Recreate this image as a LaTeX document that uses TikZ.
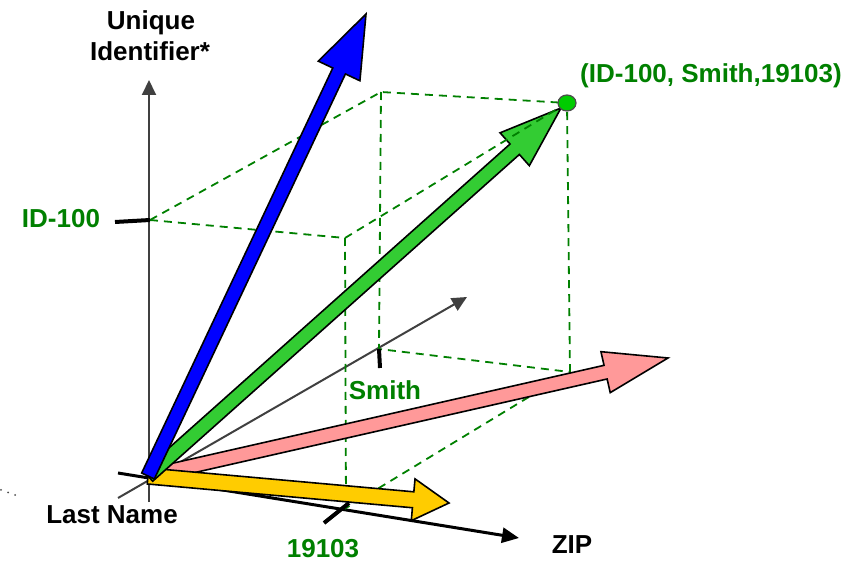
\documentclass[tikz,border=0pt]{standalone}
\usepackage{fontspec}
\setmainfont{Liberation Sans}
\usetikzlibrary{calc,arrows.meta}
\definecolor{lblgreen}{RGB}{0,128,0}
\definecolor{arrgreen}{RGB}{51,204,51}
\definecolor{dotgreen}{RGB}{0,204,0}
\definecolor{pinkc}{RGB}{255,153,153}
\definecolor{yelc}{RGB}{255,204,0}
\definecolor{axgray}{RGB}{64,64,64}
\newcommand\fatarr[6]{%
  \path ($(#3)!#6!(#2)$) coordinate (fah);
  \filldraw[fill=#1, draw=black, line width=1.6pt, line join=miter]
    ($(#2)!#4!90:(#3)$) -- ($(fah)!#4!90:(#3)$) -- ($(fah)!#5!90:(#3)$) -- (#3)
    -- ($(fah)!#5!-90:(#3)$) -- ($(fah)!#4!-90:(#3)$) -- ($(#2)!#4!-90:(#3)$) -- cycle;
}
\tikzset{
  box/.style={lblgreen, line width=1.8pt, dash pattern=on 8pt off 6pt},
  tick/.style={black, line width=4pt},
  lbl/.style={font=\fontsize{26}{31}\selectfont\bfseries, anchor=base, inner sep=0pt},
  glbl/.style={lbl, text=lblgreen},
}
\begin{document}
\begin{tikzpicture}[x=1pt,y=-1pt]
\useasboundingbox (0,0) rectangle (863,561);
% key points
\coordinate (O) at (148,476);
\coordinate (A) at (150,220);
\coordinate (B) at (381,92);
\coordinate (C) at (345,238);
\coordinate (D) at (567,103);
\coordinate (S) at (379,349);
\coordinate (E) at (570,372);
\coordinate (Z) at (346,508);
% axes
\coordinate (vbot) at (149,502);
\coordinate (vtop) at (149,80);
\coordinate (bbot) at (118,498);
\coordinate (btop) at (467,297);
\coordinate (zbot) at (118,473);
\coordinate (ztop) at (519,538);
\draw[axgray, line width=2pt, -{Triangle[length=15pt,width=14pt]}] (vbot) -- (vtop);
\draw[axgray, line width=2pt, -{Triangle[length=15pt,width=14pt]}] (bbot) -- (btop);
\draw[black, line width=3pt, -{Triangle[length=17pt,width=15pt]}] (zbot) -- (ztop);
% dots at the left edge
\foreach \p/\q in {1/490, 8/492.5, 15/495} \fill[black!70] (\p,\q) circle (1pt);
% dashed box
\draw[box] (A) -- (B) -- (D);
\draw[box] (A) -- (C);
\draw[box] (B) -- (S) -- (E);
\draw[box] (C) -- (Z) -- (E) -- (D);
% fat arrows
\coordinate (pinktip) at (668,358);
\coordinate (yeltip) at (449,503);
\coordinate (greentip) at (561,108);
\coordinate (bluetip) at (366,14);
\fatarr{pinkc}{O}{pinktip}{7pt}{21pt}{64pt}
\fatarr{yelc}{O}{yeltip}{8pt}{21pt}{36pt}
\fatarr{arrgreen}{O}{greentip}{7pt}{22pt}{62pt}
\draw[box] (C) -- (D);
\fatarr{blue}{O}{bluetip}{7pt}{23pt}{63pt}
% point
\filldraw[fill=dotgreen, draw=black!70, line width=1.2pt] (D) ellipse (9pt and 8pt);
% ticks
\coordinate (idt) at (115,222);
\coordinate (smt) at (380,368);
\coordinate (zpt) at (324,523);
\coordinate (zpu) at (349,503);
\draw[tick] (idt) -- (A);
\draw[tick] (S) -- (smt);
\draw[tick] (zpt) -- (zpu);
% labels
\node[lbl, align=center] (uid) at (151,30) {Unique};
\node[lbl] (uid2) at (150,61) {Identifier*};
\node[glbl] (lid) at (61,228) {ID-100};
\node[glbl] (lpt) at (711,83) {(ID-100, Smith,19103)};
\node[glbl] (lsm) at (385,400) {Smith};
\node[lbl] (lln) at (112,523) {Last Name};
\node[glbl] (lzp) at (323,557) {19103};
\node[lbl] (lzip) at (572,553) {ZIP};
\end{tikzpicture}
\end{document}
